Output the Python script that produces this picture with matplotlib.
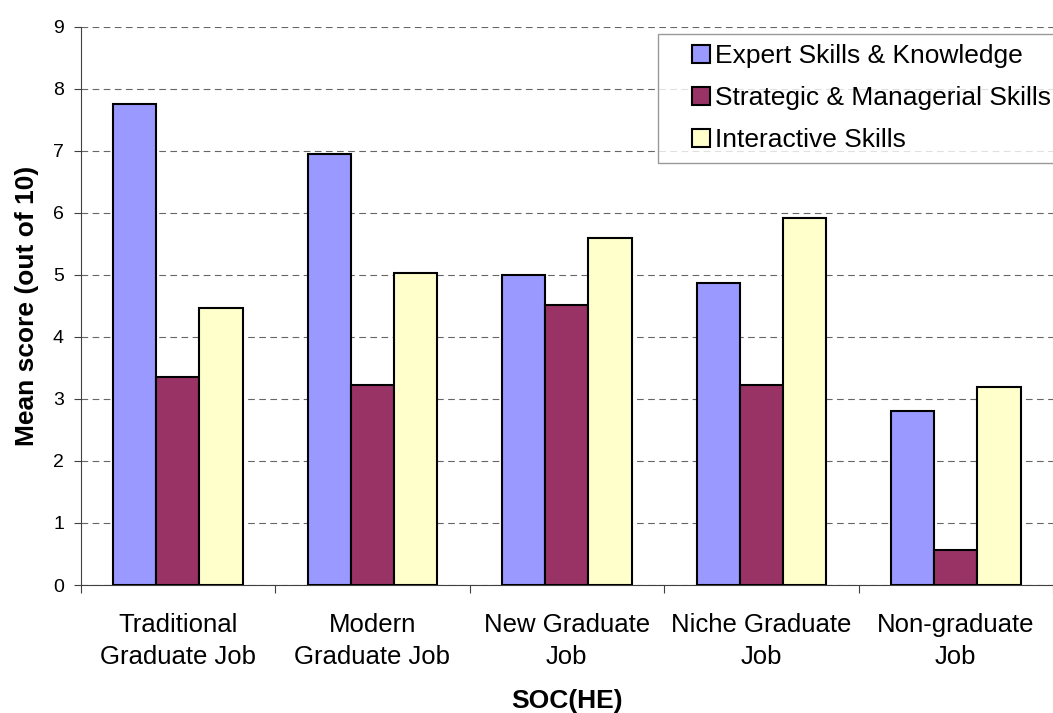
import matplotlib
matplotlib.use("Agg")
import matplotlib.pyplot as plt
from matplotlib.lines import Line2D
import numpy as np

plt.rcParams['font.family'] = ['Liberation Sans', 'DejaVu Sans']

categories = ["Traditional\nGraduate Job", "Modern\nGraduate Job", "New Graduate\nJob",
              "Niche Graduate\nJob", "Non-graduate\nJob"]
series_names = ["Expert Skills & Knowledge", "Strategic & Managerial Skills", "Interactive Skills"]
expert = [7.75, 6.95, 4.99, 4.86, 2.81]
strategic = [3.35, 3.22, 4.52, 3.22, 0.56]
interactive = [4.47, 5.02, 5.59, 5.91, 3.19]
colors = ["#9999FF", "#993366", "#FFFFCC"]

fig = plt.figure(figsize=(10.53, 7.13), dpi=100)
ax = fig.add_axes([80.6 / 1053, 1 - 585 / 713, (1053 - 80.6) / 1053, (585 - 26.5) / 713])

x = np.arange(len(categories))
bw = 0.222
for i, (vals, col) in enumerate(zip([expert, strategic, interactive], colors)):
    ax.bar(x + (i - 1) * bw, vals, width=bw, color=col, edgecolor="black",
           linewidth=1.5, zorder=3)

ax.set_xlim(-0.5, len(categories) - 0.5)
ax.set_ylim(0, 9)
ax.set_yticks(range(0, 10))
ax.tick_params(axis="y", labelsize=14, length=5, width=0.8, pad=7, color="#404040")

# category boundaries carry the tick marks, labels sit at the centres
ax.set_xticks(np.arange(-0.5, len(categories), 1.0))
ax.set_xticklabels([])
ax.set_xticks(x, minor=True)
ax.set_xticklabels(categories, minor=True, fontsize=18.5, linespacing=1.45)
ax.tick_params(axis="x", which="major", length=6, width=0.8, color="#404040")
ax.tick_params(axis="x", which="minor", length=0, pad=20)

ax.yaxis.grid(True, color="#666666", linestyle=(0, (6, 4)), linewidth=0.8)
ax.set_axisbelow(True)
for s in ["top", "right"]:
    ax.spines[s].set_visible(False)
for s in ["left", "bottom"]:
    ax.spines[s].set_color("#404040")
    ax.spines[s].set_linewidth(0.8)

ax.set_ylabel("Mean score (out of 10)", fontsize=19, fontweight="bold")
ax.yaxis.set_label_coords(-0.043, 0.5)
ax.set_xlabel("SOC(HE)", fontsize=19, fontweight="bold", va="top")
ax.xaxis.set_label_coords(0.5, -0.186)

handles = [Line2D([], [], marker="s", linestyle="none", markersize=12.8,
                  markerfacecolor=c, markeredgecolor="black", markeredgewidth=1.5)
           for c in colors]
leg = ax.legend(handles, series_names, loc="upper left",
                bbox_to_anchor=(658 / 1053, 1 - 33.7 / 713), bbox_transform=fig.transFigure,
                borderaxespad=0, fontsize=19, frameon=True, fancybox=False,
                borderpad=0.4, handlelength=2.45, handletextpad=-0.68, labelspacing=0.68)
leg.get_frame().set_edgecolor("#808080")
leg.get_frame().set_linewidth(1.0)

fig.savefig("out.png", dpi=100)
